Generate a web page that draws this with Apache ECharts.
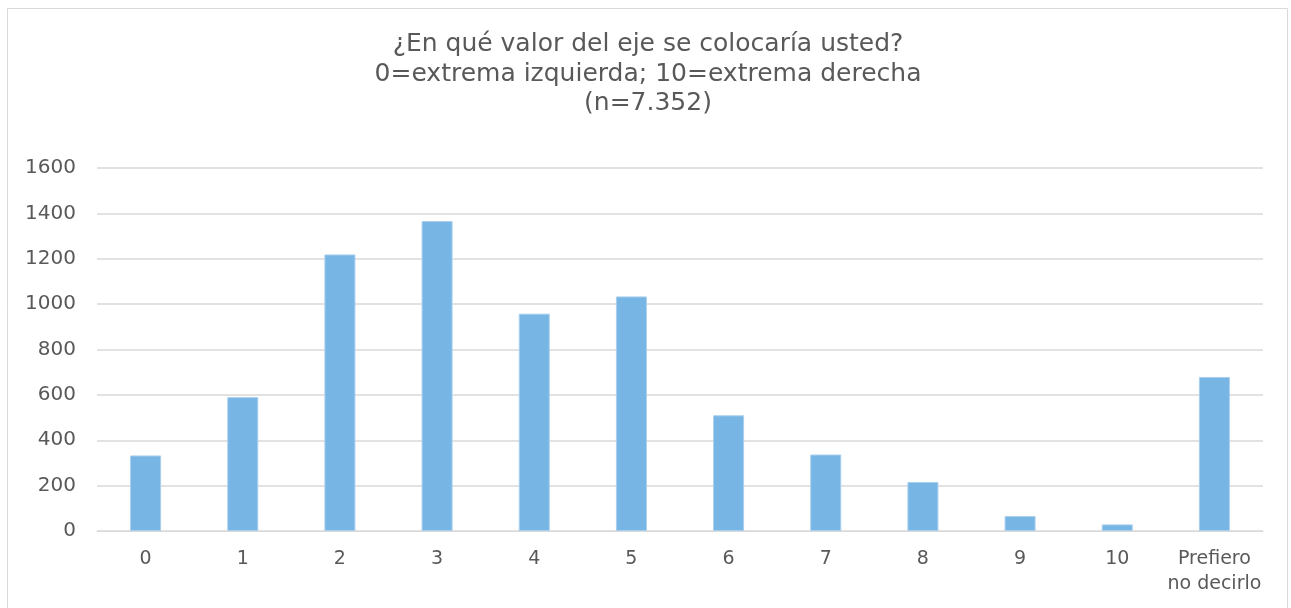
<!DOCTYPE html>
<html><head><meta charset="utf-8">
<script src="https://cdn.jsdelivr.net/npm/echarts@6/dist/echarts.min.js"></script>
<style>html,body{margin:0;padding:0;background:#fff}#c{width:1291px;height:608px}</style>
</head><body><div id="c"></div>
<script>
const titleLines = ['¿En qué valor del eje se colocaría usted?', '0=extrema izquierda; 10=extrema derecha', '(n=7.352)'];
const categories = ['0','1','2','3','4','5','6','7','8','9','10','Prefiero\nno decirlo'];
const values = [333, 590, 1219, 1366, 958, 1034, 510, 337, 216, 66, 29, 679];
const yTicks = {min: 0, max: 1600, interval: 200};

const chart = echarts.init(document.getElementById('c'), null, {renderer: 'canvas'});
const FONT = '"DejaVu Sans", sans-serif';
chart.setOption({
  animation: false,
  backgroundColor: '#fff',
  graphic: [
    {type: 'rect', shape: {x: 7.5, y: 8.5, width: 1280, height: 610}, style: {fill: 'none', stroke: '#d9d9d9', lineWidth: 1}, silent: true},
    {type: 'text', x: 648, y: 30, silent: true,
     style: {text: titleLines.join('\n'), textAlign: 'center', textVerticalAlign: 'top', fontFamily: FONT, fontSize: 25, lineHeight: 29.5, fill: '#595959'}}
  ],
  grid: {left: 97, right: 28, top: 168, bottom: 77, containLabel: false},
  xAxis: {
    type: 'category', data: categories,
    axisLine: {lineStyle: {color: '#d9d9d9', width: 1}},
    axisTick: {show: false},
    axisLabel: {fontFamily: FONT, fontSize: 19, color: '#595959', margin: 16, lineHeight: 25, interval: 0}
  },
  yAxis: {
    type: 'value', min: yTicks.min, max: yTicks.max, interval: yTicks.interval,
    axisLine: {show: false}, axisTick: {show: false},
    splitLine: {lineStyle: {color: '#d9d9d9', width: 1.5}},
    axisLabel: {fontFamily: FONT, fontSize: 20, color: '#595959', margin: 21, formatter: v => String(v)}
  },
  series: [{
    type: 'bar', data: values, barWidth: 31,
    itemStyle: {color: '#77b5e4', borderColor: '#a9cfee', borderWidth: 1}
  }]
});
</script></body></html>
